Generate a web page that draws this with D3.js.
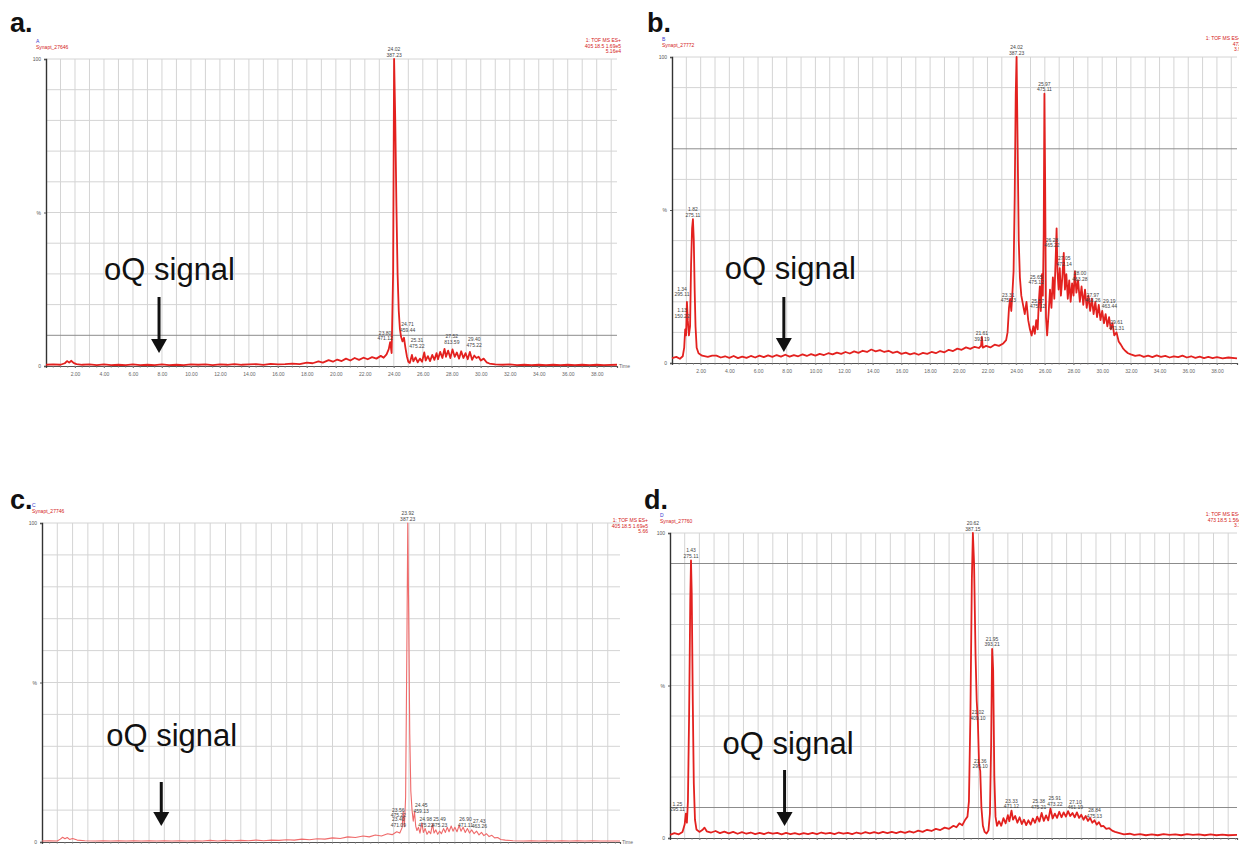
<!DOCTYPE html>
<html>
<head>
<meta charset="utf-8">
<script src="https://cdn.jsdelivr.net/npm/d3@7/dist/d3.min.js"></script>
<style>
body{margin:0;background:#fff}
svg{display:block;font-family:"Liberation Sans",Arial,sans-serif}
</style>
</head>
<body>
<div id="chart"></div>
<script>
// chromatogram traces: [retention time (min), relative intensity (%)]
const traceA = [[0,0.4],[0.5,0.5],[1.0,0.4],[1.3,0.9],[1.45,1.6],[1.6,1.1],[1.75,1.7],[1.9,1.0],[2.1,0.6],[2.5,0.4],[3,0.5],[3.5,0.3],[4,0.5],[4.5,0.3],[5,0.4],[5.5,0.3],[6,0.5],[6.5,0.3],[7,0.4],[7.5,0.3],[8,0.5],[8.5,0.3],[9,0.4],[9.5,0.3],[10,0.5],[10.5,0.4],[11,0.5],[11.5,0.3],[12,0.5],[12.5,0.4],[13,0.6],[13.5,0.4],[14,0.5],[14.5,0.6],[15,0.4],[15.5,0.7],[16,0.5],[16.5,0.6],[17,0.8],[17.5,0.6],[18,1.1],[18.4,0.9],[18.8,1.5],[19.1,1.1],[19.5,1.9],[19.8,1.4],[20.1,2.1],[20.4,1.6],[20.7,2.4],[21.0,1.8],[21.3,2.6],[21.6,2.0],[21.9,2.7],[22.2,2.2],[22.5,2.9],[22.8,2.4],[23.1,3.3],[23.3,2.7],[23.5,3.8],[23.65,5.5],[23.75,7.8],[23.85,4.2],[23.95,30],[24.02,100],[24.1,80],[24.18,52],[24.26,30],[24.34,18],[24.42,12],[24.5,9.5],[24.6,8],[24.7,9.2],[24.8,6],[24.9,3.2],[25.0,1.4],[25.1,1.0],[25.25,3.6],[25.35,1.5],[25.5,2.8],[25.65,1.2],[25.8,2.4],[25.95,1.4],[26.1,4.4],[26.2,1.8],[26.35,3.2],[26.5,1.6],[26.65,3.6],[26.8,2.0],[26.95,4.2],[27.05,2.2],[27.2,4.6],[27.35,2.6],[27.5,5.6],[27.6,3.0],[27.75,5.0],[27.9,2.6],[28.05,5.4],[28.2,3.0],[28.35,4.4],[28.5,2.4],[28.65,4.8],[28.8,2.6],[28.95,4.2],[29.1,2.2],[29.25,4.6],[29.4,2.0],[29.55,3.4],[29.7,2.6],[29.85,3.0],[30.0,1.8],[30.2,2.4],[30.4,1.2],[30.6,0.8],[31,0.5],[31.5,0.4],[32,0.5],[32.5,0.3],[33,0.4],[33.5,0.3],[34,0.4],[34.5,0.3],[35,0.4],[35.5,0.3],[36,0.4],[36.5,0.3],[37,0.4],[37.5,0.3],[38,0.4],[38.5,0.3],[39.4,0.4]]

const traceB = [[0,1.6],[0.3,2.0],[0.55,1.4],[0.75,2.2],[0.85,5],[0.92,11],[0.98,9],[1.04,20],[1.1,14],[1.18,9],[1.26,12],[1.33,32],[1.4,44],[1.46,47],[1.52,40],[1.58,24],[1.64,12],[1.72,5],[1.85,3.2],[2.1,2.4],[2.5,2.0],[2.8,2.4],[3.1,2.4],[3.4,1.8],[3.7,2.2],[4.0,1.7],[4.3,2.3],[4.6,1.6],[4.9,2.1],[5.2,1.7],[5.5,2.3],[5.8,1.8],[6.1,2.4],[6.4,1.9],[6.7,2.5],[7.0,2.0],[7.3,2.6],[7.6,2.1],[7.9,2.7],[8.2,2.1],[8.5,2.6],[8.8,2.2],[9.1,2.8],[9.4,2.3],[9.7,2.9],[10.0,2.4],[10.3,3.0],[10.6,2.6],[10.9,3.2],[11.2,2.8],[11.5,3.4],[11.8,3.0],[12.1,3.6],[12.4,3.1],[12.7,3.8],[13.0,3.3],[13.3,4.0],[13.6,3.6],[13.9,4.4],[14.2,3.8],[14.5,4.2],[14.8,3.6],[15.1,4.0],[15.4,3.3],[15.7,3.7],[16.0,3.0],[16.3,3.4],[16.6,2.8],[16.9,3.2],[17.2,2.7],[17.5,3.3],[17.8,3.0],[18.1,3.6],[18.4,3.2],[18.7,3.9],[19.0,3.5],[19.3,4.3],[19.6,3.9],[19.9,4.7],[20.2,4.3],[20.5,5.1],[20.8,4.6],[21.1,5.3],[21.4,4.9],[21.55,5.6],[21.61,8.5],[21.67,5.0],[21.9,5.6],[22.2,5.1],[22.5,6.0],[22.8,5.6],[23.1,6.4],[23.3,7.5],[23.4,10],[23.5,18],[23.58,21],[23.66,17],[23.74,23],[23.82,30],[23.9,55],[23.97,88],[24.03,100],[24.1,72],[24.18,40],[24.26,28],[24.36,22],[24.48,19],[24.6,16],[24.72,20],[24.84,14],[24.96,11],[25.08,9],[25.2,12],[25.3,9.5],[25.4,14],[25.5,11],[25.58,20],[25.65,25],[25.72,17],[25.8,29],[25.86,22],[25.92,42],[25.97,88],[26.02,60],[26.08,15],[26.16,9],[26.26,16],[26.36,24],[26.46,18],[26.56,28],[26.66,21],[26.76,35],[26.82,44],[26.88,30],[26.96,24],[27.04,31],[27.12,22],[27.22,28],[27.32,36],[27.4,24],[27.5,29],[27.6,21],[27.7,27],[27.8,20],[27.9,26],[28.0,22],[28.1,30],[28.2,23],[28.32,27],[28.44,20],[28.56,25],[28.68,19],[28.8,24],[28.92,18],[29.04,22],[29.16,17],[29.28,21],[29.4,16],[29.52,20],[29.64,15],[29.76,19],[29.88,14],[30.0,17],[30.12,13],[30.24,16],[30.36,12],[30.48,15],[30.6,11],[30.72,13],[30.84,9],[31.0,10],[31.15,7],[31.3,6],[31.45,4.8],[31.6,4.0],[31.8,3.2],[32.0,2.8],[32.3,2.3],[32.6,2.6],[32.9,2.0],[33.2,2.4],[33.5,1.9],[33.8,2.5],[34.1,2.0],[34.4,2.3],[34.7,1.8],[35.0,2.2],[35.3,1.9],[35.6,2.4],[35.9,1.8],[36.2,2.2],[36.5,1.7],[36.8,2.1],[37.1,1.6],[37.4,2.0],[37.7,1.6],[38.0,1.9],[38.4,1.5],[38.8,1.8],[39.4,1.5]]

const traceC = [[0,0.3],[0.5,0.4],[1.0,0.3],[1.2,0.9],[1.35,1.5],[1.5,1.0],[1.65,1.4],[1.8,0.8],[2.0,1.1],[2.3,0.6],[2.8,0.4],[3.5,0.3],[4,0.4],[4.5,0.3],[5,0.4],[5.5,0.3],[6,0.4],[6.5,0.3],[7,0.4],[7.5,0.3],[8,0.4],[8.5,0.3],[9,0.4],[9.5,0.3],[10,0.4],[10.5,0.3],[11,0.5],[11.5,0.3],[12,0.5],[12.5,0.4],[13,0.5],[13.5,0.4],[14,0.6],[14.5,0.4],[15,0.6],[15.5,0.5],[16,0.7],[16.5,0.6],[17,0.9],[17.5,0.7],[18,1.0],[18.5,0.9],[19,1.3],[19.5,1.1],[20,1.6],[20.5,1.4],[21,1.9],[21.4,1.6],[21.8,2.2],[22.2,1.9],[22.6,2.6],[22.9,2.3],[23.2,3.2],[23.4,2.8],[23.55,4.5],[23.62,9.5],[23.7,4.8],[23.78,14],[23.86,60],[23.92,100],[23.98,72],[24.05,34],[24.12,16],[24.2,10],[24.28,6.5],[24.36,9.5],[24.44,5],[24.52,3.6],[24.62,4.6],[24.72,2.8],[24.84,6.0],[24.94,3.0],[25.06,4.2],[25.18,2.4],[25.3,3.4],[25.42,2.6],[25.54,5.6],[25.64,2.8],[25.76,3.8],[25.88,2.4],[26.0,3.4],[26.12,2.6],[26.26,4.2],[26.38,3.0],[26.5,4.6],[26.62,3.2],[26.76,5.0],[26.88,3.4],[27.0,4.6],[27.14,3.2],[27.28,5.2],[27.4,3.4],[27.54,4.6],[27.68,3.0],[27.82,4.2],[27.96,2.8],[28.1,3.8],[28.26,2.6],[28.42,3.4],[28.58,2.2],[28.74,3.0],[28.9,2.0],[29.06,2.6],[29.24,1.7],[29.42,2.1],[29.6,1.3],[29.8,1.4],[30.0,0.8],[30.3,0.6],[30.8,0.4],[31.5,0.3],[32,0.4],[32.5,0.3],[33,0.4],[33.5,0.3],[34,0.4],[34.5,0.3],[35,0.4],[35.5,0.3],[36,0.4],[36.5,0.3],[37.8,0.3]]

const traceD = [[0,1.0],[0.3,1.6],[0.6,1.2],[0.85,2.0],[1.0,4.5],[1.08,8],[1.15,5],[1.22,12],[1.3,40],[1.38,78],[1.43,91],[1.48,80],[1.55,45],[1.62,18],[1.7,6],[1.8,2.8],[2.0,2.0],[2.2,2.6],[2.35,3.4],[2.5,2.2],[2.8,1.8],[3.1,2.3],[3.4,1.6],[3.7,2.1],[4.0,1.5],[4.3,2.0],[4.6,1.4],[4.9,1.9],[5.2,1.4],[5.5,1.8],[5.8,1.3],[6.1,1.7],[6.4,1.3],[6.7,1.8],[7.0,1.4],[7.3,1.7],[7.6,1.2],[7.9,1.7],[8.2,1.3],[8.5,1.6],[8.8,1.2],[9.1,1.6],[9.4,1.3],[9.7,1.7],[10.0,1.3],[10.3,1.8],[10.6,1.4],[10.9,1.7],[11.2,1.3],[11.5,1.8],[11.8,1.4],[12.1,1.7],[12.4,1.3],[12.7,1.8],[13.0,1.4],[13.3,1.9],[13.6,1.5],[13.9,1.9],[14.2,1.5],[14.5,2.0],[14.8,1.6],[15.1,2.0],[15.4,1.6],[15.7,2.1],[16.0,1.7],[16.3,2.2],[16.6,1.8],[16.9,2.4],[17.2,2.0],[17.5,2.7],[17.8,2.3],[18.1,3.0],[18.4,2.6],[18.7,3.4],[19.0,3.0],[19.3,4.0],[19.5,3.5],[19.7,4.8],[19.9,4.2],[20.1,6.0],[20.25,7],[20.35,12],[20.45,40],[20.55,85],[20.62,100],[20.7,90],[20.8,60],[20.88,45],[20.96,38],[21.04,24],[21.12,22],[21.2,10],[21.3,4],[21.42,2.0],[21.55,1.5],[21.68,2.5],[21.78,8],[21.86,30],[21.93,62],[22.0,55],[22.08,20],[22.16,7],[22.26,4],[22.4,5.5],[22.55,4.0],[22.7,6.5],[22.85,4.8],[23.0,7.5],[23.1,5.5],[23.25,9.0],[23.35,6.0],[23.5,7.2],[23.65,5.0],[23.8,6.8],[23.95,4.6],[24.1,6.0],[24.25,4.2],[24.4,5.8],[24.55,4.4],[24.7,6.4],[24.85,5.0],[25.0,7.0],[25.15,5.4],[25.3,8.2],[25.45,5.6],[25.6,7.4],[25.75,5.8],[25.9,9.6],[26.05,6.4],[26.2,8.0],[26.35,6.6],[26.5,8.6],[26.65,6.8],[26.8,8.4],[26.95,7.0],[27.1,8.8],[27.25,7.2],[27.4,8.2],[27.55,6.8],[27.7,8.4],[27.85,6.6],[28.0,7.6],[28.15,6.0],[28.3,7.2],[28.45,5.6],[28.6,6.6],[28.75,5.0],[28.9,5.8],[29.05,4.4],[29.2,5.2],[29.35,3.8],[29.5,4.0],[29.7,3.0],[29.9,3.2],[30.1,2.4],[30.3,2.0],[30.6,1.6],[30.9,1.2],[31.3,1.4],[31.6,1.0],[32.0,1.3],[32.4,0.9],[32.8,1.2],[33.2,0.9],[33.6,1.3],[34.0,1.0],[34.4,1.2],[34.8,0.9],[35.2,1.3],[35.6,1.0],[36.0,1.2],[36.4,0.9],[36.8,1.2],[37.2,0.9],[37.6,1.1],[38.0,0.9],[38.6,1.0]]

// annotated peaks: where the label sits (time, %), rt label, m/z label
const peaksA = [
  {t:24.02,v:100,rt:"24.02",mz:"387.23"},{t:23.4,v:7.5,rt:"23.80",mz:"471.12"},
  {t:24.95,v:10.4,rt:"24.71",mz:"459.44"},{t:25.6,v:5.2,rt:"25.31",mz:"475.22"},
  {t:28.0,v:6.4,rt:"27.52",mz:"813.59"},{t:29.55,v:5.4,rt:"29.40",mz:"475.22"}]
const peaksB = [
  {t:0.7,v:14,rt:"1.13",mz:"150.22"},{t:0.7,v:21,rt:"1.34",mz:"295.11"},
  {t:1.46,v:47,rt:"1.82",mz:"275.11"},{t:21.61,v:6.5,rt:"21.61",mz:"393.19"},
  {t:23.45,v:19,rt:"23.31",mz:"475.23"},{t:24.03,v:100,rt:"24.02",mz:"387.23"},
  {t:25.4,v:25,rt:"25.65",mz:"475.12"},{t:25.5,v:17,rt:"25.57",mz:"475.12"},
  {t:25.97,v:88,rt:"25.97",mz:"475.11"},{t:26.5,v:37,rt:"26.28",mz:"465.22"},
  {t:27.35,v:31,rt:"27.05",mz:"472.14"},{t:28.45,v:26,rt:"28.00",mz:"463.28"},
  {t:29.35,v:19,rt:"27.97",mz:"463.26"},{t:30.5,v:17,rt:"29.19",mz:"463.44"},
  {t:31.0,v:10,rt:"29.61",mz:"471.31"}]
const peaksC = [
  {t:23.92,v:100,rt:"23.92",mz:"387.23"},{t:23.3,v:4.0,rt:"23.40",mz:"471.09"},
  {t:23.3,v:7.0,rt:"23.56",mz:"475.22"},{t:24.8,v:8.4,rt:"24.45",mz:"459.13"},
  {t:25.1,v:4.0,rt:"24.98",mz:"475.22"},{t:26.0,v:4.0,rt:"25.49",mz:"475.23"},
  {t:27.7,v:4.0,rt:"26.90",mz:"471.11"},{t:28.6,v:3.6,rt:"27.43",mz:"463.26"}]
const peaksD = [
  {t:1.43,v:91,rt:"1.43",mz:"275.11"},{t:0.5,v:8,rt:"1.25",mz:"295.11"},
  {t:20.62,v:100,rt:"20.62",mz:"387.15"},{t:20.96,v:38,rt:"21.02",mz:"409.10"},
  {t:21.12,v:22,rt:"21.36",mz:"295.10"},{t:21.93,v:62,rt:"21.95",mz:"393.21"},
  {t:23.25,v:9,rt:"23.33",mz:"471.12"},{t:25.1,v:8.8,rt:"25.38",mz:"475.21"},
  {t:26.2,v:9.8,rt:"25.91",mz:"473.22"},{t:27.6,v:8.6,rt:"27.10",mz:"461.19"},
  {t:28.9,v:5.8,rt:"28.84",mz:"475.13"}]

const xTickLabels = [2,4,6,8,10,12,14,16,18,20,22,24,26,28,30,32,34,36,38]
const yTickLabels = [0,50,100]
const oqTime = 7.8
const oqText = "oQ signal"

// layout of the four panels
const panels = [
  {label:"a.", lx:10, ly:32, id:"A", file:"Synapt_27646", info:["1: TOF MS ES+","405 18.5 1.69e5","5.16e4"],
   trace:traceA, peaks:peaksA, tMax:39.4, x0:46, x1:617, top:59, base:366, infoX:621, infoY:-17,
   color:"#e3211f", width:1.8, darkH:[10], textDx:-55, textY:280, arrowTop:297, tip:13, xLabels:true},
  {label:"b.", lx:647, ly:32, id:"B", file:"Synapt_27772", info:["1: TOF MS ES+","473","3.9"],
   trace:traceB, peaks:peaksB, tMax:39.4, x0:672, x1:1237, top:57, base:363, infoX:1241, infoY:-17,
   color:"#e3211f", width:1.8, darkH:[70], textDx:-59, textY:279, arrowTop:297, tip:11, xLabels:true},
  {label:"c.", lx:10, ly:509, id:"C", file:"Synapt_27746", info:["1: TOF MS ES+","405 18.5 1.69e5","5.66"],
   trace:traceC, peaks:peaksC, tMax:37.8, x0:42, x1:620, top:523, base:842, infoX:648, infoY:-1,
   color:"#ef6a6a", width:1.1, darkH:[], textDx:-55, textY:746, arrowTop:782, tip:16, xLabels:false},
  {label:"d.", lx:644, ly:509, id:"D", file:"Synapt_27760", info:["1: TOF MS ES+","473 18.5 1.56e","3.1"],
   trace:traceD, peaks:peaksD, tMax:38.6, x0:670, x1:1237, top:533, base:838, infoX:1241, infoY:-17,
   color:"#e3211f", width:1.8, darkH:[10,90], textDx:-62, textY:754, arrowTop:770, tip:12, xLabels:true}
]

let svg = d3.select("#chart").append("svg")
  .attr("width",1239)
  .attr("height",844)

svg.append("rect").attr("width",1239).attr("height",844).attr("fill","#fff")

function drawPanel(p){
  let g = svg.append("g")
  let x = d3.scaleLinear().domain([0,p.tMax]).range([p.x0,p.x1])
  let y = d3.scaleLinear().domain([0,100]).range([p.base,p.top])

  //grid
  g.selectAll(".vgrid")
  .data(d3.range(1,Math.floor(p.tMax)+1))
  .enter().append("line")
  .attr("x1",d => x(d)).attr("x2",d => x(d))
  .attr("y1",y(100)).attr("y2",y(0))
  .attr("stroke","#d4d4d4").attr("stroke-width",1)

  g.selectAll(".hgrid")
  .data(d3.range(10,101,10))
  .enter().append("line")
  .attr("x1",x(0)).attr("x2",x(p.tMax))
  .attr("y1",d => y(d)).attr("y2",d => y(d))
  .attr("stroke",d => p.darkH.includes(d) ? "#8c8c8c" : "#d4d4d4")
  .attr("stroke-width",1)

  //x axis
  let xAxis = g.append("g")
  .attr("transform","translate(0,"+y(0)+")")
  .call(d3.axisBottom(x)
    .tickValues(p.xLabels ? xTickLabels.filter(d => d < p.tMax) : [])
    .tickFormat(d => d.toFixed(2)).tickSize(2))
  xAxis.select(".domain").attr("stroke","#555").attr("stroke-width",1.2)
  xAxis.selectAll("text").attr("font-size",5).attr("fill","#666").attr("dy","0.9em")
  xAxis.selectAll("line").attr("stroke","#777")

  g.selectAll(".minor")
  .data(d3.range(0.5,p.tMax,0.5))
  .enter().append("line")
  .attr("x1",d => x(d)).attr("x2",d => x(d))
  .attr("y1",y(0)).attr("y2",y(0)+2)
  .attr("stroke","#888").attr("stroke-width",0.6)

  g.append("text")
  .text("Time")
  .attr("x",x(p.tMax)+2).attr("y",y(0)+2)
  .attr("font-size",5).attr("fill","#666")

  //y axis
  let yAxis = g.append("g")
  .attr("transform","translate("+x(0)+",0)")
  .call(d3.axisLeft(y).tickValues(yTickLabels).tickFormat(d => d == 50 ? "%" : d).tickSize(2))
  yAxis.select(".domain").attr("stroke","#333").attr("stroke-width",1.4)
  yAxis.selectAll("text").attr("font-size",5).attr("fill","#555")
  yAxis.selectAll("line").attr("stroke","#555")

  //trace
  let line = d3.line().x(d => x(d[0])).y(d => y(d[1]))
  g.append("path")
  .datum(p.trace)
  .attr("d",line)
  .attr("fill","none")
  .attr("stroke",p.color)
  .attr("stroke-width",p.width)
  .attr("stroke-linejoin","round")

  //peak labels
  let pk = g.selectAll(".peak")
  .data(p.peaks)
  .enter().append("text")
  .attr("x",d => x(d.t))
  .attr("y",d => y(d.v)-8)
  .attr("text-anchor","middle")
  .attr("font-size",5)
  .attr("fill","#444")
  pk.append("tspan").text(d => d.rt)
  pk.append("tspan").attr("x",d => x(d.t)).attr("dy",5.5).text(d => d.mz)

  //header
  g.append("text").text(p.label)
  .attr("x",p.lx).attr("y",p.ly)
  .attr("font-size",27).attr("font-weight","bold").attr("fill","#111")
  g.append("text").text(p.id)
  .attr("x",x(0)-10).attr("y",y(100)-16)
  .attr("font-size",5).attr("fill","#3a3ad0")
  g.append("text").text(p.file)
  .attr("x",x(0)-10).attr("y",y(100)-10)
  .attr("font-size",5).attr("fill","#d42020")
  g.selectAll(".info")
  .data(p.info)
  .enter().append("text")
  .text(d => d)
  .attr("x",p.infoX)
  .attr("y",(d,i) => y(100)+p.infoY+i*5.5)
  .attr("text-anchor","end")
  .attr("font-size",5).attr("fill","#d42020")

  //oQ signal arrow
  let ax = x(oqTime)
  let tipY = y(0)-p.tip
  g.append("text").text(oqText)
  .attr("x",ax+p.textDx).attr("y",p.textY)
  .attr("font-size",31).attr("fill","#111")
  g.append("line")
  .attr("x1",ax).attr("x2",ax)
  .attr("y1",p.arrowTop).attr("y2",tipY-12)
  .attr("stroke","#111").attr("stroke-width",3)
  g.append("path")
  .attr("d","M"+(ax-8)+","+(tipY-14)+"L"+(ax+8)+","+(tipY-14)+"L"+ax+","+tipY+"Z")
  .attr("fill","#111")
}

panels.forEach(p => drawPanel(p))
</script>
</body>
</html>
